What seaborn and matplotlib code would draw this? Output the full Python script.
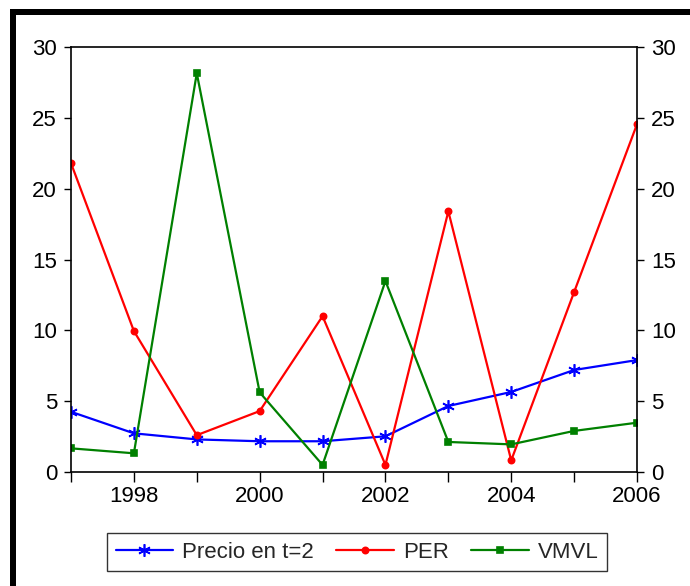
import matplotlib
matplotlib.use("Agg")
import matplotlib.pyplot as plt
import seaborn as sns
import pandas as pd
from matplotlib.patches import Rectangle
from matplotlib.lines import Line2D

years = [1997, 1998, 1999, 2000, 2001, 2002, 2003, 2004, 2005, 2006]
precio = [4.25, 2.73, 2.3, 2.17, 2.17, 2.52, 4.66, 5.65, 7.2, 7.9]
per = [21.8, 9.95, 2.6, 4.3, 11.0, 0.5, 18.4, 0.82, 12.7, 24.55]
vmvl = [1.67, 1.32, 28.15, 5.62, 0.5, 13.48, 2.12, 1.95, 2.9, 3.48]
series_names = ["Precio en t=2", "PER", "VMVL"]
xtick_labels = ["", "1998", "", "2000", "", "2002", "", "2004", "", "2006"]
ytick_values = [0, 5, 10, 15, 20, 25, 30]

df = pd.DataFrame({
    "year": years * 3,
    "value": precio + per + vmvl,
    "serie": [series_names[0]] * len(years) + [series_names[1]] * len(years) + [series_names[2]] * len(years),
})

sns.set_theme(style="white")
plt.rcParams["font.family"] = ["Liberation Sans", "DejaVu Sans"]

fig = plt.figure(figsize=(6.9, 5.86), dpi=100)
ax = fig.add_axes([71/690, 1 - 472/586, (637 - 71)/690, (472 - 47)/586])

colors = ["#0000ff", "#ff0000", "#008000"]
mk = [(6, 2, 0), "o", "s"]
msz = [9, 4.5, 5]
for name, c, m, s in zip(series_names, colors, mk, msz):
    sub = df[df["serie"] == name]
    sns.lineplot(data=sub, x="year", y="value", color=c, marker=m, markersize=s,
                 markeredgecolor=c, markeredgewidth=1.2, linewidth=1.6, ax=ax,
                 estimator=None, legend=False)

ax.set_xlim(1997, 2006)
ax.set_ylim(0, 30)
ax.set_xticks(years)
ax.set_xticklabels(xtick_labels)
ax.set_yticks(ytick_values)
ax.set_yticklabels([str(v) for v in ytick_values])
ax.set_xlabel("")
ax.set_ylabel("")
for sp in ax.spines.values():
    sp.set_visible(True)
    sp.set_color("black")
    sp.set_linewidth(1.2)
ax.tick_params(axis="y", which="both", left=True, right=True, labelleft=True, labelright=True,
               direction="out", length=5, width=1.0, colors="black", labelsize=16, pad=5)
ax.tick_params(axis="x", bottom=True, direction="out", length=7, width=1.0, colors="black",
               labelsize=16, pad=3)
ax.grid(False)

handles = [
    Line2D([], [], color=c, lw=1.6, marker=m, markersize=s, markeredgecolor=c, markeredgewidth=1.2)
    for c, m, s in zip(colors, mk, msz)
]
leg = fig.legend(handles, series_names, loc="center", bbox_to_anchor=(357/690, 1 - 552/586),
                 ncol=3, frameon=True, fontsize=16, fancybox=False, handlelength=2.6,
                 columnspacing=1.0, handletextpad=0.4, borderpad=0.4, edgecolor="black",
                 borderaxespad=0)
leg.get_frame().set_linewidth(1.0)

fig.patches.append(Rectangle((10/690, 0), 6/690, 1 - 9/586, transform=fig.transFigure,
                             facecolor="black", edgecolor="none"))
fig.patches.append(Rectangle((10/690, 1 - 15/586), 1 - 10/690, 6/586, transform=fig.transFigure,
                             facecolor="black", edgecolor="none"))

fig.savefig("out.png", dpi=100)
